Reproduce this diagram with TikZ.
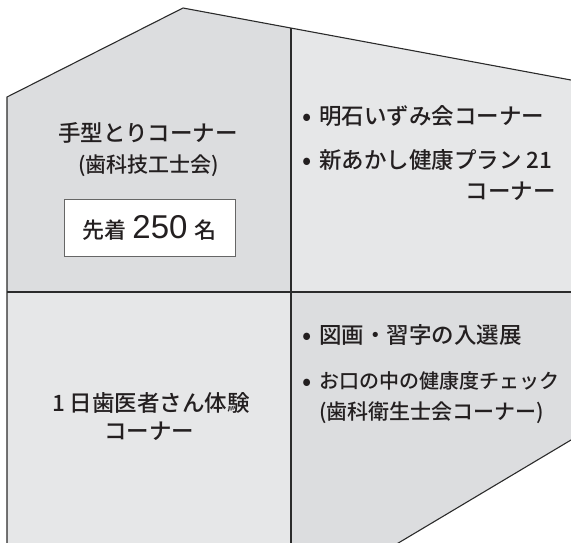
\documentclass[tikz,border=0pt]{standalone}
\usepackage{fontspec}
\setmainfont{Noto Sans CJK JP}[UprightFont={* Medium}]
\newfontfamily\numfont{Liberation Sans}
\usepackage{tikz}

\definecolor{cornerdark}{HTML}{DCDDDF}
\definecolor{cornerlight}{HTML}{E6E7E8}
\definecolor{ink}{HTML}{231F20}
\definecolor{edge}{HTML}{2B2B2B}

\newcommand{\jpbig}{\fontsize{22.5}{26}\selectfont}
\newcommand{\jpmid}{\fontsize{21}{24}\selectfont}
\newcommand{\jpsmall}{\fontsize{20}{24}\selectfont}

\tikzset{
  txt/.style={draw=none, inner sep=0pt, text=ink, font=\jpbig},
  dot/.style={txt, yshift=-4pt, scale=1.15},
  outline/.style={draw=edge, line width=1.1pt, line join=miter},
  divider/.style={draw=edge, line width=1.8pt}
}

\begin{document}
\begin{tikzpicture}[x=1pt,y=-1pt]

\useasboundingbox (0,0) rectangle (571,542);
\clip (0,0) rectangle (571,542);

% house shape
\coordinate (leftfoot) at (7,560);
\coordinate (eave) at (7,97);
\coordinate (peak) at (183,8);
\coordinate (roofend) at (600,85.4);
\coordinate (cutend) at (600,422.7);
\coordinate (cutfoot) at (369.8,560);
\coordinate (divtop) at (291,28);
\coordinate (divbottom) at (291,560);
\coordinate (divleft) at (7,292);
\coordinate (divright) at (600,292);

\begin{scope}
\clip (leftfoot) -- (eave) -- (peak) -- (roofend) -- (cutend) -- (cutfoot) -- cycle;
\fill[cornerdark] (0,0) rectangle (291,292);
\fill[cornerlight] (291,0) rectangle (600,292);
\fill[cornerlight] (0,292) rectangle (291,560);
\fill[cornerdark] (291,292) rectangle (600,560);
\end{scope}

\draw[outline] (leftfoot) -- (eave) -- (peak) -- (roofend); % roof
\draw[outline] (cutend) -- (cutfoot); % cut corner
\draw[divider] (divtop) -- (divbottom);
\draw[divider] (divleft) -- (divright);

% top left
\node [txt] (tegata) at (148,133) {手型とりコーナー};
\node [txt, font=\jpmid] (gikou) at (148.5,166) {(歯科技工士会)};
\node [draw=gray!80!black, line width=1pt, fill=white, minimum width=171pt, minimum height=57pt, inner sep=0pt, text=ink] (quota) at (149.5,227.5)
  {\fontsize{22}{26}\selectfont 先着\hspace{6pt}{\numfont\fontsize{33}{36}\selectfont 250}\hspace{7pt}名};

% top right
\foreach \Y in {116, 160}{
    \node [dot] at (307,\Y) {•};
}
\node [txt, anchor=west] (mizumi) at (319,116) {明石いずみ会コーナー};
\node [txt, anchor=west] (kenko) at (319,160) {新あかし健康プラン 21};
\node [txt, anchor=east] (kenkocorner) at (556,191) {コーナー};

% bottom left
\node [txt] (taiken) at (151,403) {1 日歯医者さん体験};
\node [txt] (taikencorner) at (149,431) {コーナー};

% bottom right
\foreach \Y in {335, 381}{
    \node [dot] at (307,\Y) {•};
}
\node [txt, anchor=west] (nyusen) at (319,335) {図画・習字の入選展};
\node [txt, anchor=west, font=\jpsmall] (kuchi) at (319,381) {お口の中の健康度チェック};
\node [txt, anchor=west, font=\jpmid] (eisei) at (319,413) {(歯科衛生士会コーナー)};

\end{tikzpicture}
\end{document}
